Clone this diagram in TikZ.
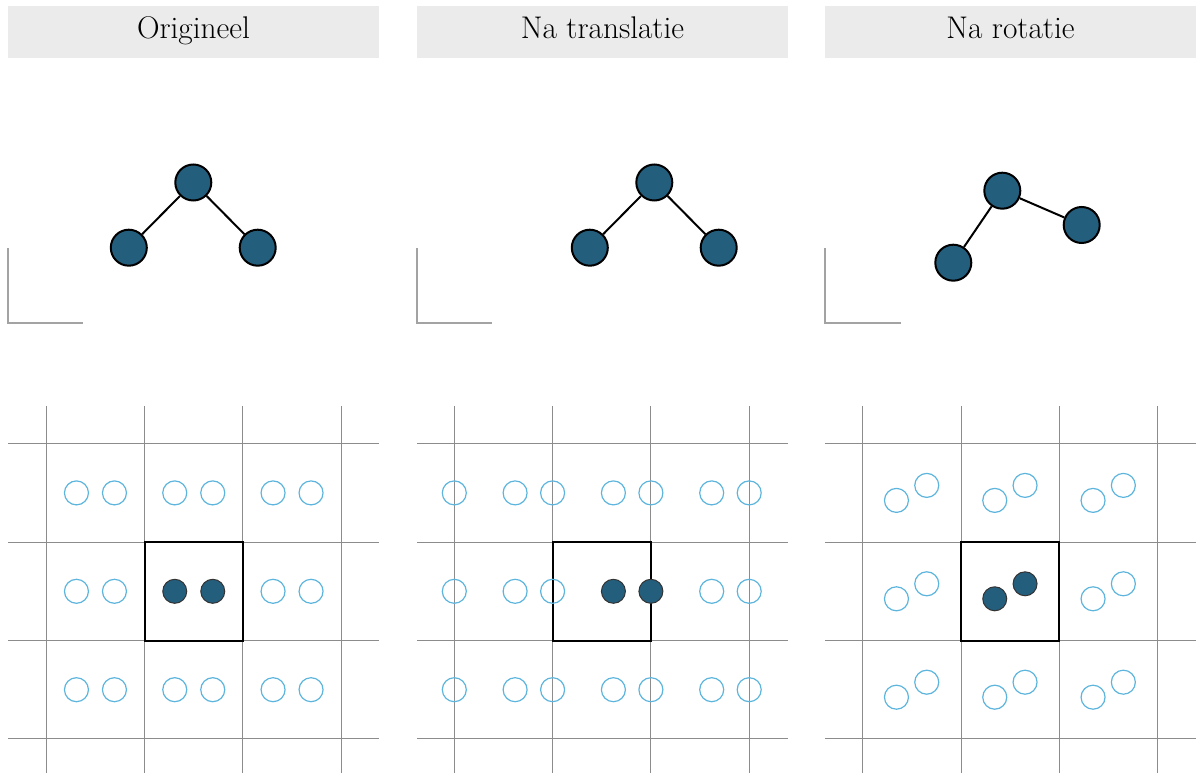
\documentclass[tikz,border=0pt]{standalone}
\usepackage{tikz}
\definecolor{atomfill}{HTML}{245E7D}
\definecolor{ghost}{HTML}{5DB5DD}
\definecolor{gridc}{HTML}{8C8C8C}
\definecolor{hdr}{HTML}{EBEBEB}
\begin{document}
\begin{tikzpicture}[x=0.75pt,y=-0.75pt,
  header/.style={fill=hdr,draw=none,minimum width=278.25pt,minimum height=39pt,inner sep=0pt,
    font=\fontsize{23.5}{27}\selectfont,text height=16.3pt,text depth=6.7pt},
  bigatom/.style={circle,fill=atomfill,draw=black,line width=1.5pt,minimum size=27pt,inner sep=0pt},
  bond/.style={draw=black,line width=1.5pt},
  axisline/.style={draw=gridc!80,line width=1.1pt},
  gridline/.style={draw=gridc,line width=0.75pt},
  cellbox/.style={draw=black,line width=1.5pt},
  ghostatom/.style={circle,draw=ghost,line width=0.9pt,minimum size=18pt,inner sep=0pt},
  smallatom/.style={circle,fill=atomfill,draw=black!80,line width=0.75pt,minimum size=18pt,inner sep=0pt}]
\useasboundingbox (0,0) rectangle (1200,773);

% headers
\node[header] (h1) at (193.5,32) {Origineel};
\node[header] (h2) at (602.5,32) {Na translatie};
\node[header] (h3) at (1010.5,32) {Na rotatie};

% axes
\draw[axisline] (8,248) -- (8,323) -- (83,323);
\draw[axisline] (417,248) -- (417,323) -- (492,323);
\draw[axisline] (825,248) -- (825,323) -- (901,323);

% molecules
\node[bigatom] (m1t) at (193.3,182.5) {};
\node[bigatom] (m1l) at (128.8,247.7) {};
\node[bigatom] (m1r) at (257.7,247.7) {};
\draw[bond] (m1t) -- (m1l);
\draw[bond] (m1t) -- (m1r);

\node[bigatom] (m2t) at (654.3,182.5) {};
\node[bigatom] (m2l) at (589.8,247.7) {};
\node[bigatom] (m2r) at (718.7,247.7) {};
\draw[bond] (m2t) -- (m2l);
\draw[bond] (m2t) -- (m2r);

\node[bigatom] (m3t) at (1002.3,190.7) {};
\node[bigatom] (m3l) at (953.3,262.7) {};
\node[bigatom] (m3r) at (1081.7,225) {};
\draw[bond] (m3t) -- (m3l);
\draw[bond] (m3t) -- (m3r);

% grids
\foreach \vx/\px in {46.3/8, 454.3/417, 862.7/825}{
  \foreach \k in {0,1,2,3}{
    \draw[gridline] ({\vx+\k*98.3},406) -- ({\vx+\k*98.3},773);
    \draw[gridline] (\px,{443.7+\k*98.4}) -- ({\px+371},{443.7+\k*98.4});
  }
  \draw[cellbox] ({\vx+98.3},542.1) rectangle ({\vx+196.6},640.5);
}

% panel 1 atoms
\foreach \i in {0,1,2}{
  \foreach \j in {0,1,2}{
    \pgfmathsetmacro{\cx}{46.3+\i*98.3+49.15}
    \pgfmathsetmacro{\cy}{443.7+\j*98.4+49.2}
    \ifnum\i\j=11
      \node[smallatom] (a1-\i\j-a) at ({\cx-19},\cy) {};
      \node[smallatom] (a1-\i\j-b) at ({\cx+19},\cy) {};
    \else
      \node[ghostatom] (a1-\i\j-a) at ({\cx-19},\cy) {};
      \node[ghostatom] (a1-\i\j-b) at ({\cx+19},\cy) {};
    \fi
  }
}

% panel 2 atoms
\foreach \j in {0,1,2}{
  \pgfmathsetmacro{\cy}{443.7+\j*98.4+49.2}
  \node[ghostatom] (a2-e\j) at (454.3,\cy) {};
  \foreach \i in {0,1,2}{
    \pgfmathsetmacro{\cl}{454.3+\i*98.3}
    \ifnum\i\j=11
      \node[smallatom] (a2-\i\j-a) at ({\cl+60.8},\cy) {};
      \node[smallatom] (a2-\i\j-b) at ({\cl+98.3},\cy) {};
    \else
      \node[ghostatom] (a2-\i\j-a) at ({\cl+60.8},\cy) {};
      \node[ghostatom] (a2-\i\j-b) at ({\cl+98.3},\cy) {};
    \fi
  }
}

% panel 3 atoms
\foreach \i in {0,1,2}{
  \foreach \j in {0,1,2}{
    \pgfmathsetmacro{\cx}{862.7+\i*98.3+49.15}
    \pgfmathsetmacro{\cy}{443.7+\j*98.4+49.2}
    \ifnum\i\j=11
      \node[smallatom] (a3-\i\j-a) at ({\cx-15.4},{\cy+7.5}) {};
      \node[smallatom] (a3-\i\j-b) at ({\cx+14.9},{\cy-7.5}) {};
    \else
      \node[ghostatom] (a3-\i\j-a) at ({\cx-15.4},{\cy+7.5}) {};
      \node[ghostatom] (a3-\i\j-b) at ({\cx+14.9},{\cy-7.5}) {};
    \fi
  }
}
\end{tikzpicture}
\end{document}
